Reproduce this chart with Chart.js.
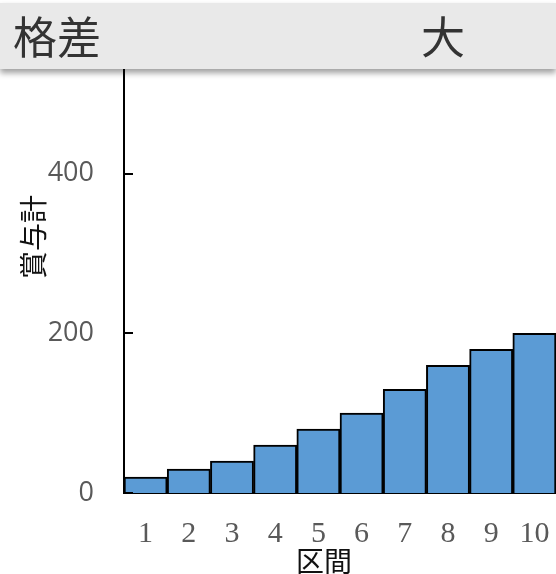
<!DOCTYPE html>
<html>
<head>
<meta charset="utf-8">
<script src="https://cdn.jsdelivr.net/npm/chart.js@4"></script>
<style>
  html, body { margin: 0; padding: 0; background: #fff; }
  #wrap { position: relative; width: 556px; height: 574px; overflow: hidden; }
  #chart { position: absolute; left: 0; top: 0; }
  .band {
    position: absolute; left: 0; top: 3px; width: 556px; height: 66px;
    background: #e9e9e9; box-shadow: 0 4px 6px rgba(0,0,0,0.38);
  }
  .band span {
    position: absolute; top: 50%; transform: translateY(-52%);
    font-family: "Noto Sans CJK JP", sans-serif; font-size: 44px; color: #333;
    line-height: 1;
  }
  .axis-title {
    position: absolute; font-family: "Noto Sans CJK JP", sans-serif;
    font-size: 28px; color: #111; line-height: 1; white-space: nowrap;
  }
</style>
</head>
<body>
<div id="wrap">
  <canvas id="chart" width="556" height="574"></canvas>
  <div class="band"><span style="left:13px">格差</span><span style="left:421px">大</span></div>
  <div class="axis-title" id="ytitle" style="left:32px; top:237px; transform: translate(-50%,-50%) rotate(-90deg);">賞与計</div>
  <div class="axis-title" id="xtitle" style="left:324px; top:560px; transform: translate(-50%,-50%);">区間</div>
</div>
<script>
// 区間ごとの賞与計
const categories = ['1', '2', '3', '4', '5', '6', '7', '8', '9', '10'];
const bonusTotals = [20, 30, 40, 60, 80, 100, 130, 160, 180, 200];
const yTickValues = [0, 200, 400];

// short tick marks drawn inside the plot area, at each y tick
const innerTicks = {
  id: 'innerTicks',
  afterDatasetsDraw(chart) {
    const y = chart.scales.y;
    const ctx = chart.ctx;
    ctx.save();
    ctx.strokeStyle = '#000';
    ctx.lineWidth = 2;
    y.ticks.forEach(t => {
      const py = Math.round(y.getPixelForValue(t.value));
      ctx.beginPath();
      ctx.moveTo(chart.chartArea.left, py);
      ctx.lineTo(chart.chartArea.left + 9, py);
      ctx.stroke();
    });
    ctx.restore();
  }
};

new Chart(document.getElementById('chart'), {
  type: 'bar',
  data: {
    labels: categories,
    datasets: [{
      data: bonusTotals,
      backgroundColor: '#5b9bd5',
      borderColor: '#000',
      borderWidth: 2,
      categoryPercentage: 1,
      barPercentage: 1
    }]
  },
  options: {
    responsive: false,
    animation: false,
    layout: { padding: { top: 70, left: 0, right: 0, bottom: 0 } },
    plugins: { legend: { display: false }, tooltip: { enabled: false } },
    scales: {
      x: {
        grid: { display: false, drawTicks: false },
        border: { display: true, color: '#000', width: 2 },
        ticks: {
          color: '#595959',
          font: { family: 'Liberation Serif', size: 30 },
          padding: 23,
          maxRotation: 0
        },
        afterFit(s) { s.height = 81; s.paddingLeft = 0; s.paddingRight = 0; }
      },
      y: {
        min: 0,
        max: 530,
        afterBuildTicks(s) { s.ticks = yTickValues.map(v => ({ value: v })); },
        grid: { display: false, drawTicks: false },
        border: { display: true, color: '#000', width: 2 },
        ticks: {
          color: '#595959',
          font: { family: 'Open Sans', size: 27 },
          padding: 30
        },
        afterFit(s) { s.width = 124; s.paddingTop = 0; s.paddingBottom = 0; }
      }
    }
  },
  plugins: [innerTicks]
});
</script>
</body>
</html>
